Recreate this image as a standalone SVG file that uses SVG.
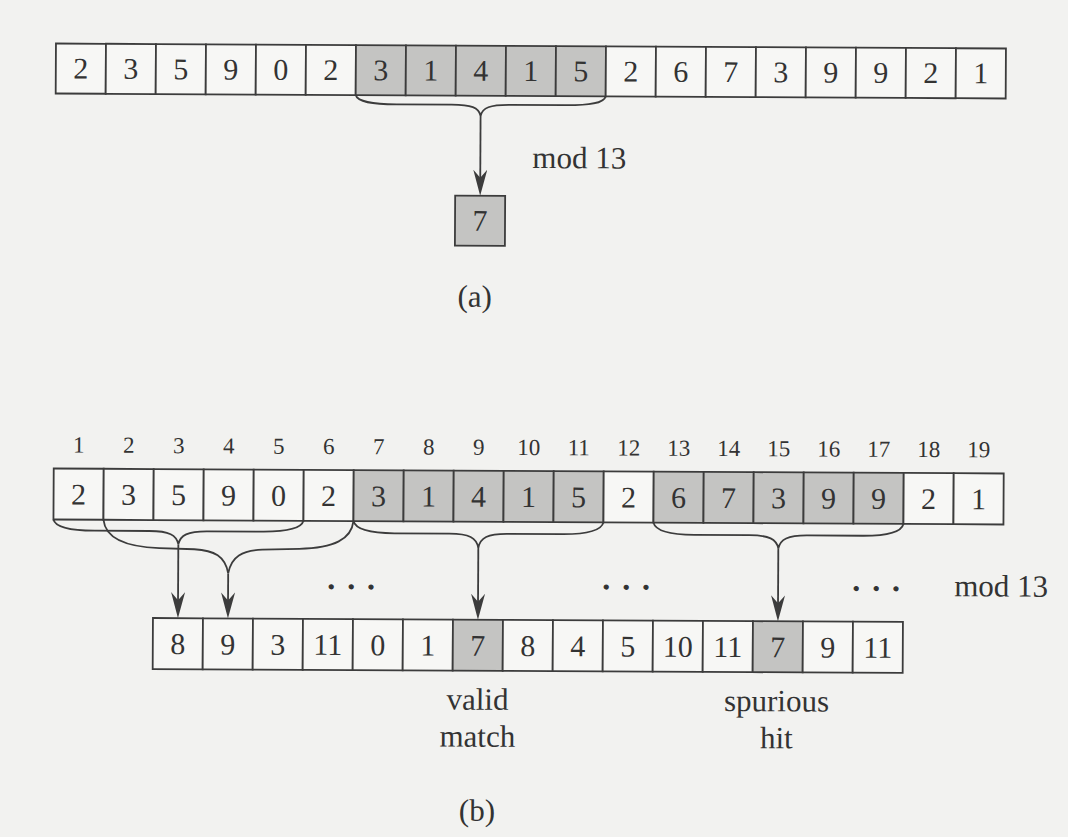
<svg xmlns="http://www.w3.org/2000/svg" width="1068" height="837" viewBox="0 0 1068 837">
<style>
.c{fill:#f7f7f5;stroke:#3c3c3c;stroke-width:1.8}
.h{fill:#c4c4c2}
.t{font-family:"Liberation Serif","Times New Roman","DejaVu Serif",serif;fill:#333;text-anchor:middle}
.d{font-size:30px}
.i{font-size:23px}
.l{font-size:31px}
.dots{font-size:34px;stroke:#333;stroke-width:1.2}
.br{fill:none;stroke:#3c3c3c;stroke-width:1.8}
.ar{fill:none;stroke:#3c3c3c;stroke-width:1.8;marker-end:url(#ah)}
</style>
<defs>
<marker id="ah" viewBox="0 0 26 14" refX="18" refY="7" markerWidth="26" markerHeight="14" orient="auto" markerUnits="userSpaceOnUse"><path d="M0,0 L26,7 L0,14 L8,7 Z" fill="#3c3c3c"/></marker>
</defs>
<rect width="1068" height="837" fill="#f2f2f0"/>
<g transform="rotate(0.3 530 418)">
<g id="array-a" class="t d">
<rect class="c" x="54" y="46" width="50" height="50"/><text x="79" y="81">2</text>
<rect class="c" x="104" y="46" width="50" height="50"/><text x="129" y="81">3</text>
<rect class="c" x="154" y="46" width="50" height="50"/><text x="179" y="81">5</text>
<rect class="c" x="204" y="46" width="50" height="50"/><text x="229" y="81">9</text>
<rect class="c" x="254" y="46" width="50" height="50"/><text x="279" y="81">0</text>
<rect class="c" x="304" y="46" width="50" height="50"/><text x="329" y="81">2</text>
<rect class="c h" x="354" y="46" width="50" height="50"/><text x="379" y="81">3</text>
<rect class="c h" x="404" y="46" width="50" height="50"/><text x="429" y="81">1</text>
<rect class="c h" x="454" y="46" width="50" height="50"/><text x="479" y="81">4</text>
<rect class="c h" x="504" y="46" width="50" height="50"/><text x="529" y="81">1</text>
<rect class="c h" x="554" y="46" width="50" height="50"/><text x="579" y="81">5</text>
<rect class="c" x="604" y="46" width="50" height="50"/><text x="629" y="81">2</text>
<rect class="c" x="654" y="46" width="50" height="50"/><text x="679" y="81">6</text>
<rect class="c" x="704" y="46" width="50" height="50"/><text x="729" y="81">7</text>
<rect class="c" x="754" y="46" width="50" height="50"/><text x="779" y="81">3</text>
<rect class="c" x="804" y="46" width="50" height="50"/><text x="829" y="81">9</text>
<rect class="c" x="854" y="46" width="50" height="50"/><text x="879" y="81">9</text>
<rect class="c" x="904" y="46" width="50" height="50"/><text x="929" y="81">2</text>
<rect class="c" x="954" y="46" width="50" height="50"/><text x="979" y="81">1</text>
</g>
<g id="result-a" class="t d">
<rect class="c h" x="454" y="196" width="50" height="50"/><text x="479" y="231">7</text>
</g>
<g id="labels-a" class="t l">
<text x="578" y="168">mod 13</text>
<text x="474" y="307">(a)</text>
</g>
<g id="index-b" class="t i">
<text x="79" y="455">1</text><text x="129" y="455">2</text><text x="179" y="455">3</text><text x="229" y="455">4</text><text x="279" y="455">5</text><text x="329" y="455">6</text><text x="379" y="455">7</text><text x="429" y="455">8</text><text x="479" y="455">9</text><text x="529" y="455">10</text><text x="579" y="455">11</text><text x="629" y="455">12</text><text x="679" y="455">13</text><text x="729" y="455">14</text><text x="779" y="455">15</text><text x="829" y="455">16</text><text x="879" y="455">17</text><text x="929" y="455">18</text><text x="979" y="455">19</text>
</g>
<g id="array-b" class="t d">
<rect class="c" x="54" y="471" width="50" height="51"/><text x="79" y="507">2</text>
<rect class="c" x="104" y="471" width="50" height="51"/><text x="129" y="507">3</text>
<rect class="c" x="154" y="471" width="50" height="51"/><text x="179" y="507">5</text>
<rect class="c" x="204" y="471" width="50" height="51"/><text x="229" y="507">9</text>
<rect class="c" x="254" y="471" width="50" height="51"/><text x="279" y="507">0</text>
<rect class="c" x="304" y="471" width="50" height="51"/><text x="329" y="507">2</text>
<rect class="c h" x="354" y="471" width="50" height="51"/><text x="379" y="507">3</text>
<rect class="c h" x="404" y="471" width="50" height="51"/><text x="429" y="507">1</text>
<rect class="c h" x="454" y="471" width="50" height="51"/><text x="479" y="507">4</text>
<rect class="c h" x="504" y="471" width="50" height="51"/><text x="529" y="507">1</text>
<rect class="c h" x="554" y="471" width="50" height="51"/><text x="579" y="507">5</text>
<rect class="c" x="604" y="471" width="50" height="51"/><text x="629" y="507">2</text>
<rect class="c h" x="654" y="471" width="50" height="51"/><text x="679" y="507">6</text>
<rect class="c h" x="704" y="471" width="50" height="51"/><text x="729" y="507">7</text>
<rect class="c h" x="754" y="471" width="50" height="51"/><text x="779" y="507">3</text>
<rect class="c h" x="804" y="471" width="50" height="51"/><text x="829" y="507">9</text>
<rect class="c h" x="854" y="471" width="50" height="51"/><text x="879" y="507">9</text>
<rect class="c" x="904" y="471" width="50" height="51"/><text x="929" y="507">2</text>
<rect class="c" x="954" y="471" width="50" height="51"/><text x="979" y="507">1</text>
</g>
<g id="result-b" class="t d">
<rect class="c" x="154" y="620" width="50" height="51"/><text x="179" y="656">8</text>
<rect class="c" x="204" y="620" width="50" height="51"/><text x="229" y="656">9</text>
<rect class="c" x="254" y="620" width="50" height="51"/><text x="279" y="656">3</text>
<rect class="c" x="304" y="620" width="50" height="51"/><text x="329" y="656">11</text>
<rect class="c" x="354" y="620" width="50" height="51"/><text x="379" y="656">0</text>
<rect class="c" x="404" y="620" width="50" height="51"/><text x="429" y="656">1</text>
<rect class="c h" x="454" y="620" width="50" height="51"/><text x="479" y="656">7</text>
<rect class="c" x="504" y="620" width="50" height="51"/><text x="529" y="656">8</text>
<rect class="c" x="554" y="620" width="50" height="51"/><text x="579" y="656">4</text>
<rect class="c" x="604" y="620" width="50" height="51"/><text x="629" y="656">5</text>
<rect class="c" x="654" y="620" width="50" height="51"/><text x="679" y="656">10</text>
<rect class="c" x="704" y="620" width="50" height="51"/><text x="729" y="656">11</text>
<rect class="c h" x="754" y="620" width="50" height="51"/><text x="779" y="656">7</text>
<rect class="c" x="804" y="620" width="50" height="51"/><text x="829" y="656">9</text>
<rect class="c" x="854" y="620" width="50" height="51"/><text x="879" y="656">11</text>
</g>
<g id="labels-b" class="t l">
<text class="dots" x="352" y="599">· · ·</text>
<text class="dots" x="627" y="598">· · ·</text>
<text class="dots" x="877" y="598">· · ·</text>
<text x="1002" y="594">mod 13</text>
<text x="479" y="710">valid</text>
<text x="479" y="747">match</text>
<text x="778" y="710">spurious</text>
<text x="778" y="747">hit</text>
<text x="479" y="821">(b)</text>
</g>
<g id="connectors">
<path class="br" d="M354,96 C356,103 370,105 395,105 L450,105 C470,105 477,108 479,116 C481,108 488,105 508,105 L563,105 C588,105 602,103 604,96"/>
<path class="ar" d="M479,116 L479,188"/>
<path class="br" d="M54,522 C56,530 70,533 95,533 L150,533 C170,533 177,537 179,546 C181,537 188,533 208,533 L263,533 C288,533 302,530 304,522"/>
<path class="br" d="M104,522 C106,540 125,549 160,550 L195,551 C215,552 226,558 229,575 C232,558 243,552 263,551 L300,550 C335,549 352,540 354,522"/>
<path class="br" d="M354,522 C356,530 370,534 395,534 L450,534 C470,534 477,538 479,548 C481,538 488,534 508,534 L563,534 C588,534 602,530 604,522"/>
<path class="br" d="M654,522 C656,530 670,534 695,534 L750,534 C770,534 777,538 779,547 C781,538 788,534 808,534 L863,534 C888,534 902,530 904,522"/>
<path class="ar" d="M179,546 L179,612"/>
<path class="ar" d="M229,575 L229,612"/>
<path class="ar" d="M479,548 L479,612"/>
<path class="ar" d="M779,547 L779,612"/>
</g>
</g>
</svg>
